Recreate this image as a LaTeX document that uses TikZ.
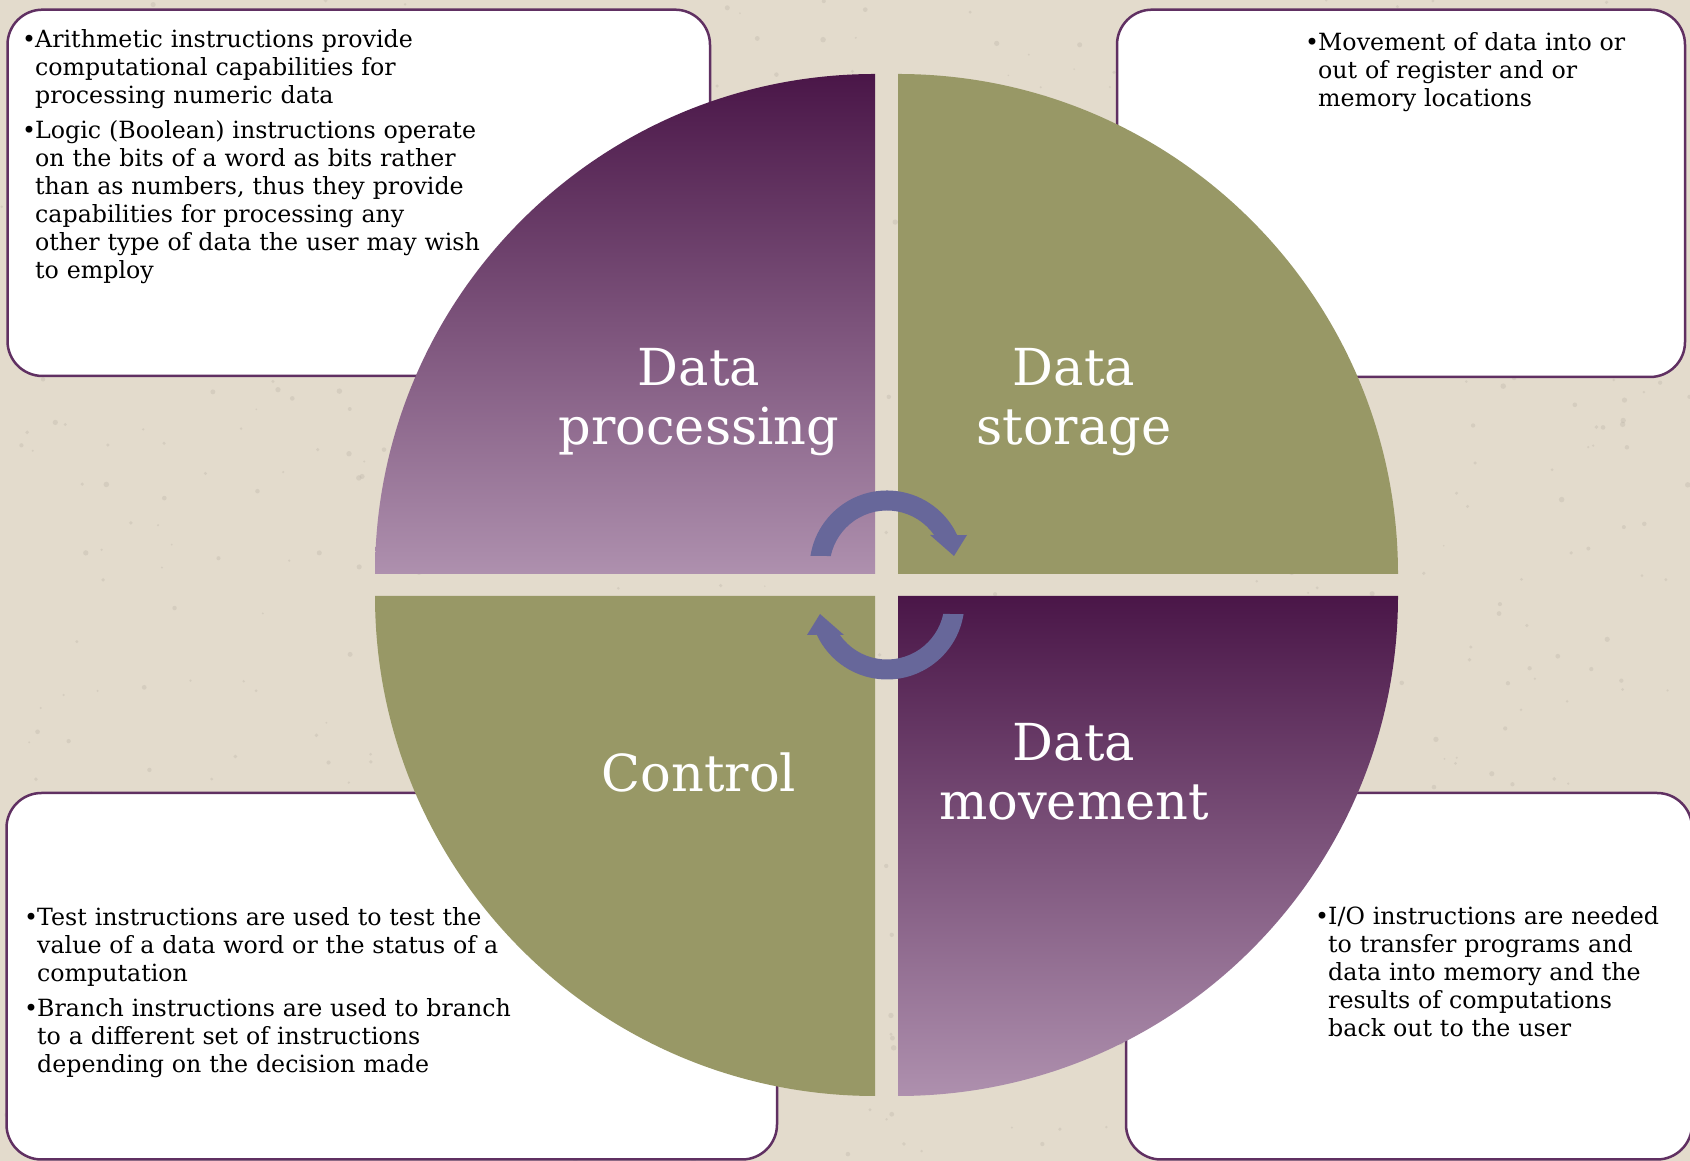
\documentclass[tikz,border=0pt]{standalone}
\usepackage{fontspec}
\setmainfont{DejaVu Serif}
\definecolor{paper}{RGB}{227,219,204}
\definecolor{quadgreen}{RGB}{152,152,102}
\definecolor{plumdark}{RGB}{74,22,72}
\definecolor{plumlight}{RGB}{174,144,174}
\definecolor{plumline}{RGB}{96,48,98}
\definecolor{turnblue}{RGB}{103,103,154}
\def\notefont{\fontsize{23.7}{28}\selectfont}
\def\quadfont{\fontsize{51}{59}\selectfont}
\newcommand{\bitem}[1]{\par\noindent\hangindent=13pt\hangafter=1\makebox[13pt][l]{\textbullet}#1\par}
\tikzstyle{infobox}=[draw=plumline,line width=2.5pt,fill=white,rounded corners=35pt,inner sep=0pt]
\tikzstyle{note}=[anchor=north west,inner sep=0pt,align=left,font=\notefont,text=black]
\tikzstyle{quad}=[align=center,font=\quadfont,text=white]
\tikzstyle{plum}=[top color=plumdark,bottom color=plumlight]
\tikzstyle{leaf}=[fill=quadgreen]
\tikzstyle{turn}=[fill=turnblue]

\begin{document}
\begin{tikzpicture}[x=1pt,y=1pt]
  \useasboundingbox (0,0) rectangle (1690,1161);
  \fill[paper] (0,0) rectangle (1690,1161);
  % speckled paper
  \pgfmathsetseed{7}
  \foreach \i in {1,...,900}
    \fill[paper!80!black,opacity=0.3] (1690*rnd,1161*rnd) circle (0.8+2*rnd);

  % box rectangle from (7.5,785) to (710,1151)
  \node[infobox,minimum width=702.5pt,minimum height=366.3pt] (bproc) at (358.75,968.15) {};
  % box rectangle from (1117,784) to (1685,1151)
  \node[infobox,minimum width=568pt,minimum height=367.3pt] (bstor) at (1401,967.65) {};
  % box rectangle from (6.5,1.5) to (777,368)
  \node[infobox,minimum width=770.5pt,minimum height=366.5pt] (bctrl) at (391.75,184.75) {};
  % box rectangle from (1126,1.5) to (1692,368)
  \node[infobox,minimum width=566pt,minimum height=366.5pt] (bmove) at (1409,184.75) {};

  \node[note,text width=660pt] (tproc) at (22,1141.5) {%
    \bitem{Arithmetic instructions provide\newline computational capabilities for\newline processing numeric data}%
    \vspace{6.5pt}%
    \bitem{Logic (Boolean) instructions operate\newline on the bits of a word as bits rather\newline than as numbers, thus they provide\newline capabilities for processing any\newline other type of data the user may wish\newline to employ}};
  \node[note,text width=370pt] (tstor) at (1305,1138.5) {%
    \bitem{Movement of data into or\newline out of register and or\newline memory locations}};
  \node[note,text width=700pt] (tctrl) at (24,263.5) {%
    \bitem{Test instructions are used to test the\newline value of a data word or the status of a\newline computation}%
    \vspace{6.5pt}%
    \bitem{Branch instructions are used to branch\newline to a different set of instructions\newline depending on the decision made}};
  \node[note,text width=370pt] (tmove) at (1315,264.5) {%
    \bitem{I/O instructions are needed\newline to transfer programs and\newline data into memory and the\newline results of computations\newline back out to the user}};

  % quadrants, radius 500
  \coordinate (qproc) at (875,587);
  \coordinate (qstor) at (898,587);
  \coordinate (qctrl) at (875,565);
  \coordinate (qmove) at (898,565);
  \path[plum] (qproc) -- ++(-500,0) arc[start angle=180,end angle=90,radius=500] -- cycle;
  \path[leaf] (qstor) -- ++(0,500) arc[start angle=90,end angle=0,radius=500] -- cycle;
  \path[leaf] (qctrl) -- ++(0,-500) arc[start angle=270,end angle=180,radius=500] -- cycle;
  \path[plum] (qmove) -- ++(500,0) arc[start angle=0,end angle=-90,radius=500] -- cycle;

  \node[quad] (lproc) at (699,759) {Data\\processing};
  \node[quad] (lstor) at (1074,759) {Data\\storage};
  \node[quad] (lctrl) at (699,389) {Control};
  \node[quad] (lmove) at (1074,389) {Data\\movement};

  % turning arrows
  \begin{scope}[shift={(887,593)}]
    \fill[turn] (171:77.5) arc[start angle=171,end angle=25,radius=77.5] -- (80,33) -- (67,12)
      -- (43,33) -- (35:57.5) arc[start angle=35,end angle=168,radius=57.5] -- cycle;
  \end{scope}
  \begin{scope}[shift={(887,559)},rotate=180]
    \fill[turn] (171:77.5) arc[start angle=171,end angle=25,radius=77.5] -- (80,33) -- (67,12)
      -- (43,33) -- (35:57.5) arc[start angle=35,end angle=168,radius=57.5] -- cycle;
  \end{scope}

\end{tikzpicture}
\end{document}
